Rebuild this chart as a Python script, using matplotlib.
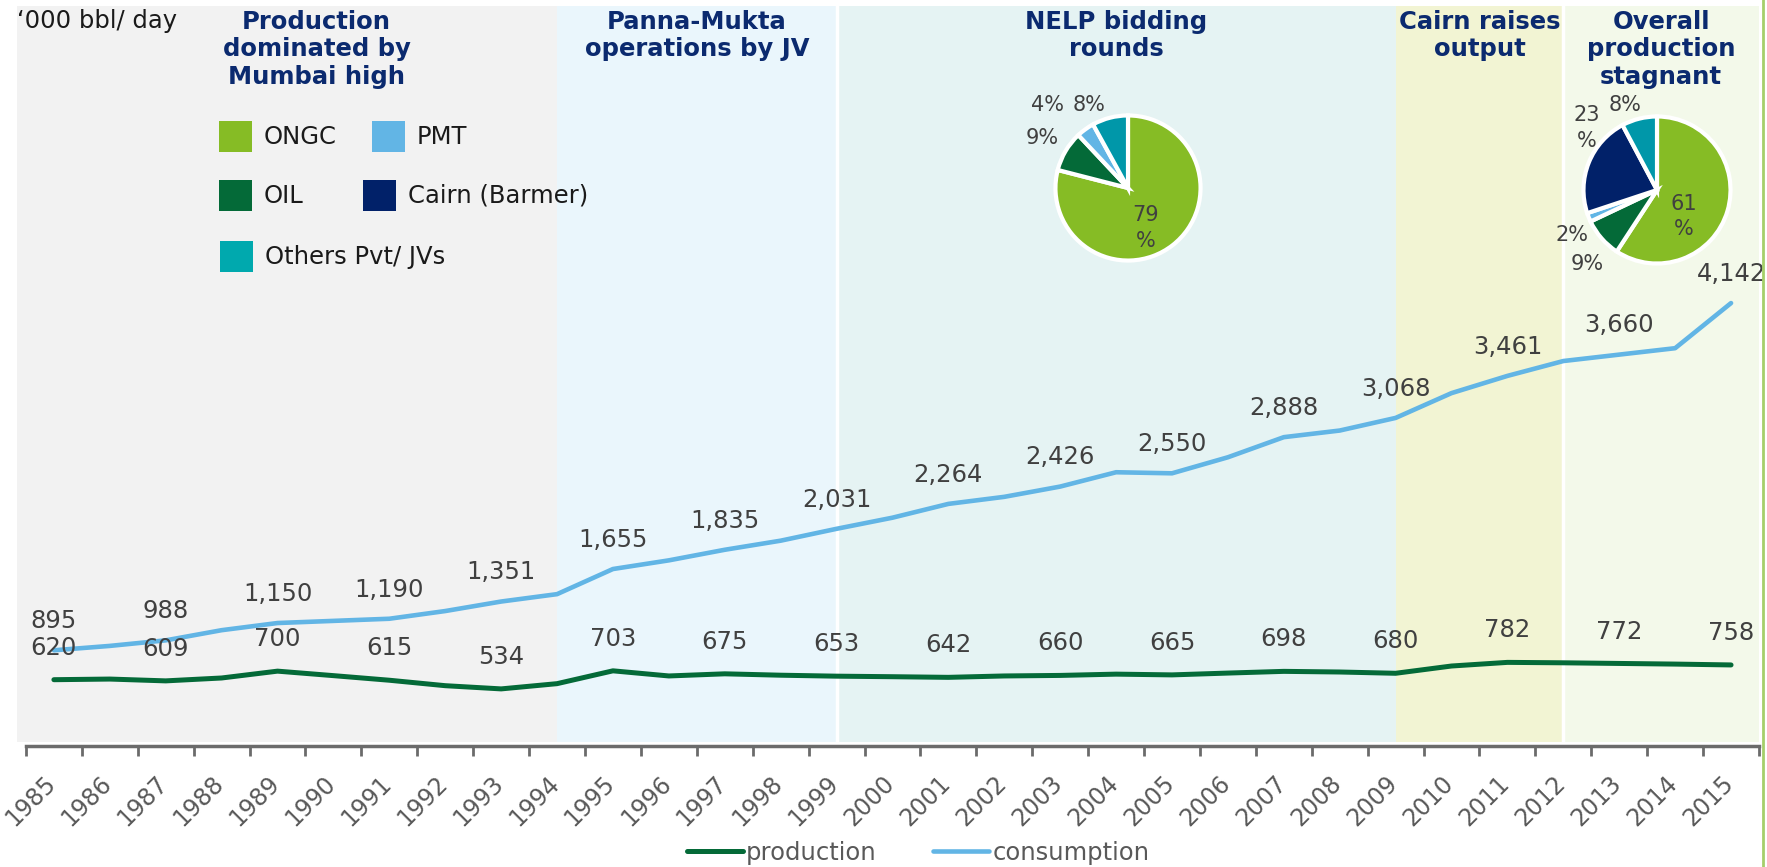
import matplotlib
matplotlib.use("Agg")
import numpy as np
from matplotlib import pyplot as plt
from matplotlib.lines import Line2D
from matplotlib.patches import Rectangle
from matplotlib.transforms import ScaledTranslation

# datos
years = list(range(1985, 2016))
production = [620, 626, 609, 636, 700, 658, 615, 564, 534, 583, 703, 655, 675, 662, 653, 648, 642, 655, 660, 672,
              665, 682, 698, 692, 680, 748, 782, 778, 772, 766, 758]
consumption = [895, 936, 988, 1083, 1150, 1170, 1190, 1262, 1351, 1420, 1655, 1736, 1835, 1920, 2031, 2135, 2264,
               2330, 2426, 2560, 2550, 2700, 2888, 2950, 3068, 3300, 3461, 3600, 3660, 3720, 4142]

phase_titles = ["Production\ndominated by\nMumbai high", "Panna-Mukta\noperations by JV", "NELP bidding\nrounds",
                "Cairn raises\noutput", "Overall\nproduction\nstagnant"]
phase_edges = [-0.66, 9, 14, 24, 27, 30.5]
phase_title_x = [4.7, 11.5, 19, 25.5, 28.75]
phase_colors = ["#F2F2F2", "#EAF6FC", "#E5F3F3", "#F2F4D3", "#F3F9EA"]

companies = ["ONGC", "OIL", "PMT", "Cairn (Barmer)", "Others Pvt/ JVs"]
company_colors = ["#86BC25", "#046A38", "#62B5E5", "#012169", "#0097A9"]
share_nelp = [79, 9, 4, 0, 8]
share_2015 = [61, 9, 2, 23, 8]

W, H = 1767, 867
NAVY = "#0B2A6F"
GRIS = "#404040"
FS = 17.5


def px(x, y):
    """pixeles (desde arriba a la izquierda) a coordenadas de figura"""
    return x / W, 1 - y / H


fig = plt.figure(figsize=(W / 100, H / 100), dpi=100)
ax = fig.add_axes([17 / W, 1 - 746 / H, 1742 / W, 740 / H])

# fondos de cada etapa
for i in range(len(phase_titles)):
    ax.axvspan(phase_edges[i], phase_edges[i + 1], ymin=0.006, ymax=1, color=phase_colors[i], lw=0, zorder=0)
    ax.text(phase_title_x[i], 0.995, phase_titles[i], transform=ax.get_xaxis_transform(), ha="center", va="top",
            fontsize=FS, fontweight="bold", color=NAVY, linespacing=1.18)
for e in (14, 27):
    ax.axvline(e, ymin=0.006, color="white", lw=2.5, zorder=1)

x = np.arange(len(years))
l_cons, = ax.plot(x, consumption, color="#62B5E5", lw=3.3, solid_capstyle="round", zorder=3, label="consumption")
l_prod, = ax.plot(x, production, color="#046A38", lw=3.6, solid_capstyle="round", zorder=3, label="production")

for i in range(0, len(years), 2):
    ax.annotate("{:,}".format(consumption[i]), (x[i], consumption[i]), xytext=(0, 21), textcoords="offset points",
                ha="center", va="center", fontsize=FS, color=GRIS, zorder=4)
    ax.annotate("{:,}".format(production[i]), (x[i], production[i]), xytext=(0, 23), textcoords="offset points",
                ha="center", va="center", fontsize=FS, color=GRIS, zorder=4)

ax.set_xlim(-0.66, 30.5)
ax.set_ylim(0, 6920)
for s in ("left", "right", "top"):
    ax.spines[s].set_visible(False)
ax.spines["bottom"].set_color("#6B6B6B")
ax.spines["bottom"].set_linewidth(2.5)
ax.spines["bottom"].set_bounds(-0.5, 30.5)
ax.set_yticks([])
ax.set_xticks(np.arange(-0.5, 31, 1), [""] * 32)
ax.set_xticks(x, [str(y) for y in years], minor=True)
ax.tick_params(axis="x", which="major", direction="out", length=7, width=2, color="#6B6B6B")
ax.tick_params(axis="x", which="minor", length=0, pad=18, labelsize=17, labelcolor="#595959", labelrotation=45)
desplazo = ScaledTranslation(7 / 100, 0, fig.dpi_scale_trans)
for lbl in ax.get_xticklabels(minor=True):
    lbl.set_ha("right")
    lbl.set_transform(lbl.get_transform() + desplazo)

fig.text(*px(17, 9), "\u2018000 bbl/ day", ha="left", va="top", fontsize=FS, color="#1A1A1A")

# leyenda de empresas
cuadros = [(0, 219, 121), (2, 372, 121), (1, 219, 180), (3, 363, 180), (4, 220, 241)]
for k, cx, cy in cuadros:
    color = "#00A9AE" if k == 4 else company_colors[k]
    fig.add_artist(Rectangle(px(cx, cy + 31), 33 / W, 31 / H, transform=fig.transFigure, color=color, lw=0))
    fig.text(*px(cx + 45, cy + 16), companies[k], ha="left", va="center", fontsize=FS, color="#1A1A1A")

# tortas
tortas = [(share_nelp, 1128, 188, 74, [(0.24, -0.55), (-1.18, 0.69), (-1.11, 1.14), None, (-0.54, 1.14)]),
          (share_2015, 1657, 190, 75, [(0.37, -0.36), (-0.95, -1.01), (-1.16, -0.61), (-0.96, 0.84), (-0.43, 1.15)])]
for shares, cx, cy, r, pos in tortas:
    axp = fig.add_axes([(cx - r) / W, 1 - (cy + r) / H, 2 * r / W, 2 * r / H])
    idx = [i for i in range(len(shares)) if shares[i] > 0]
    axp.pie([shares[i] for i in idx], colors=[company_colors[i] for i in idx], startangle=90, counterclock=False,
            wedgeprops=dict(edgecolor="white", linewidth=3))
    axp.set_xlim(-1.02, 1.02)
    axp.set_ylim(-1.02, 1.02)
    axp.axis("off")
    for i in idx:
        txt = "{}%".format(shares[i])
        if shares[i] >= 20:
            txt = "{}\n%".format(shares[i])
        axp.text(pos[i][0], pos[i][1], txt, ha="center", va="center", fontsize=15, color=GRIS, clip_on=False,
                 linespacing=1.35)

fig.legend(handles=[l_prod, l_cons], loc="center", bbox_to_anchor=px(918, 853), ncol=2, frameon=False,
           fontsize=FS, handlelength=2.3, columnspacing=2.3, handletextpad=0.15, labelcolor="#595959")

fig.add_artist(Line2D([1763 / W] * 2, [0, 1], transform=fig.transFigure, color="#A5CF6A", lw=2))

fig.savefig("out.png", dpi=100)
